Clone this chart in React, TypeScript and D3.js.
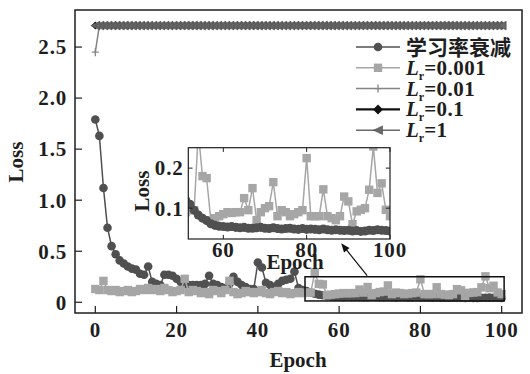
import React, {useRef, useEffect} from "react";
import * as d3 from "d3";

// epochs 0..100
const epochs: number[] = d3.range(0, 101);

// 学习率衰减 (learning-rate decay)
const decayLoss: number[] = [
    1.79, 1.63, 1.12, 0.73, 0.55, 0.47, 0.41, 0.38, 0.35, 0.33,
    0.32, 0.28, 0.27, 0.35, 0.20, 0.18, 0.17, 0.27, 0.27, 0.26,
    0.23, 0.20, 0.18, 0.17, 0.17, 0.17, 0.17, 0.18, 0.26, 0.18,
    0.17, 0.15, 0.14, 0.18, 0.25, 0.20, 0.17, 0.15, 0.13, 0.13,
    0.39, 0.34, 0.19, 0.17, 0.15, 0.18, 0.21, 0.22, 0.23, 0.30,
    0.14, 0.12, 0.11, 0.095, 0.083, 0.075, 0.069, 0.061, 0.057, 0.055,
    0.054, 0.053, 0.054, 0.052, 0.051, 0.052, 0.050, 0.050, 0.051, 0.052,
    0.050, 0.049, 0.051, 0.049, 0.048, 0.049, 0.050, 0.048, 0.047, 0.049,
    0.047, 0.048, 0.047, 0.046, 0.048, 0.046, 0.045, 0.046, 0.045, 0.044,
    0.045, 0.043, 0.044, 0.042, 0.043, 0.045, 0.044, 0.046, 0.045, 0.044,
    0.043
];

// Lr = 0.001
const lr0001Loss: number[] = [
    0.13, 0.12, 0.21, 0.12, 0.11, 0.12, 0.10, 0.11, 0.12, 0.10,
    0.11, 0.13, 0.12, 0.14, 0.12, 0.13, 0.11, 0.14, 0.12, 0.10,
    0.11, 0.12, 0.23, 0.10, 0.12, 0.11, 0.09, 0.10, 0.08, 0.12,
    0.11, 0.09, 0.12, 0.21, 0.10, 0.08, 0.09, 0.11, 0.10, 0.09,
    0.10, 0.12, 0.09, 0.08, 0.10, 0.11, 0.09, 0.10, 0.08, 0.09,
    0.10, 0.09, 0.095, 0.095, 0.29, 0.18, 0.175, 0.07, 0.075, 0.08,
    0.085, 0.09, 0.088, 0.09, 0.09, 0.125, 0.095, 0.15, 0.07, 0.09,
    0.10, 0.105, 0.165, 0.08, 0.095, 0.09, 0.08, 0.085, 0.09, 0.095,
    0.225, 0.08, 0.08, 0.08, 0.147, 0.08, 0.075, 0.07, 0.08, 0.129,
    0.117, 0.06, 0.092, 0.096, 0.10, 0.146, 0.254, 0.138, 0.162, 0.096,
    0.08
];

// Lr = 0.01
const lr001Loss: number[] = [
    2.45, 2.71, 2.71, 2.71, 2.71, 2.71, 2.71, 2.71, 2.71, 2.71,
    2.71, 2.71, 2.71, 2.71, 2.71, 2.71, 2.71, 2.71, 2.71, 2.71,
    2.71, 2.71, 2.71, 2.71, 2.71, 2.71, 2.71, 2.71, 2.71, 2.71,
    2.71, 2.71, 2.71, 2.71, 2.71, 2.71, 2.71, 2.71, 2.71, 2.71,
    2.71, 2.71, 2.71, 2.71, 2.71, 2.71, 2.71, 2.71, 2.71, 2.71,
    2.71, 2.71, 2.71, 2.71, 2.71, 2.71, 2.71, 2.71, 2.71, 2.71,
    2.71, 2.71, 2.71, 2.71, 2.71, 2.71, 2.71, 2.71, 2.71, 2.71,
    2.71, 2.71, 2.71, 2.71, 2.71, 2.71, 2.71, 2.71, 2.71, 2.71,
    2.71, 2.71, 2.71, 2.71, 2.71, 2.71, 2.71, 2.71, 2.71, 2.71,
    2.71, 2.71, 2.71, 2.71, 2.71, 2.71, 2.71, 2.71, 2.71, 2.71,
    2.71
];

// Lr = 0.1
const lr01Loss: number[] = [
    2.71, 2.71, 2.71, 2.71, 2.71, 2.71, 2.71, 2.71, 2.71, 2.71,
    2.71, 2.71, 2.71, 2.71, 2.71, 2.71, 2.71, 2.71, 2.71, 2.71,
    2.71, 2.71, 2.71, 2.71, 2.71, 2.71, 2.71, 2.71, 2.71, 2.71,
    2.71, 2.71, 2.71, 2.71, 2.71, 2.71, 2.71, 2.71, 2.71, 2.71,
    2.71, 2.71, 2.71, 2.71, 2.71, 2.71, 2.71, 2.71, 2.71, 2.71,
    2.71, 2.71, 2.71, 2.71, 2.71, 2.71, 2.71, 2.71, 2.71, 2.71,
    2.71, 2.71, 2.71, 2.71, 2.71, 2.71, 2.71, 2.71, 2.71, 2.71,
    2.71, 2.71, 2.71, 2.71, 2.71, 2.71, 2.71, 2.71, 2.71, 2.71,
    2.71, 2.71, 2.71, 2.71, 2.71, 2.71, 2.71, 2.71, 2.71, 2.71,
    2.71, 2.71, 2.71, 2.71, 2.71, 2.71, 2.71, 2.71, 2.71, 2.71,
    2.71
];

// Lr = 1
const lr1Loss: number[] = [
    2.71, 2.71, 2.71, 2.71, 2.71, 2.71, 2.71, 2.71, 2.71, 2.71,
    2.71, 2.71, 2.71, 2.71, 2.71, 2.71, 2.71, 2.71, 2.71, 2.71,
    2.71, 2.71, 2.71, 2.71, 2.71, 2.71, 2.71, 2.71, 2.71, 2.71,
    2.71, 2.71, 2.71, 2.71, 2.71, 2.71, 2.71, 2.71, 2.71, 2.71,
    2.71, 2.71, 2.71, 2.71, 2.71, 2.71, 2.71, 2.71, 2.71, 2.71,
    2.71, 2.71, 2.71, 2.71, 2.71, 2.71, 2.71, 2.71, 2.71, 2.71,
    2.71, 2.71, 2.71, 2.71, 2.71, 2.71, 2.71, 2.71, 2.71, 2.71,
    2.71, 2.71, 2.71, 2.71, 2.71, 2.71, 2.71, 2.71, 2.71, 2.71,
    2.71, 2.71, 2.71, 2.71, 2.71, 2.71, 2.71, 2.71, 2.71, 2.71,
    2.71, 2.71, 2.71, 2.71, 2.71, 2.71, 2.71, 2.71, 2.71, 2.71,
    2.71
];

const xTicks = [0, 20, 40, 60, 80, 100];
const yTicks = [0, 0.5, 1.0, 1.5, 2.0, 2.5];
const yTickLabels = ["0", "0.5", "1.0", "1.5", "2.0", "2.5"];
const insetXTicks = [60, 80, 100];
const insetYTicks = [0.1, 0.2];
const insetYTickLabels = ["0.1", "0.2"];

// zoomed region shown in the inset
const zoomEpochs = [51.6, 100.6];
const zoomLoss = [0.013, 0.25];

const legendNames = ["学习率衰减", "0.001", "0.01", "0.1", "1"];

const App = () => {
    const ref = useRef<SVGSVGElement>(null);

    useEffect(() => {
        const W = 530, H = 374;
        const serif = "'Liberation Serif', 'Times New Roman', serif";
        const cjk = "'Noto Sans CJK SC', sans-serif";
        const tickFont = `bold 21px ${serif}`;
        const ink = "#1e1e1e";

        const svg = d3.select(ref.current).attr("width", W).attr("height", H);
        svg.selectAll("*").remove();
        svg.append("rect").attr("width", W).attr("height", H).attr("fill", "#fff");

        const x = d3.scaleLinear().domain([-5, 105]).range([75, 522]);
        const y = d3.scaleLinear().domain([-0.105, 2.863]).range([313, 10]);

        const series = [
            {name: legendNames[0], values: decayLoss, color: "#505050", line: "#505050", sym: "circle"},
            {name: legendNames[1], values: lr0001Loss, color: "#a6a6a6", line: "#a6a6a6", sym: "square"},
            {name: legendNames[2], values: lr001Loss, color: "#858585", line: "#858585", sym: "plus"},
            {name: legendNames[3], values: lr01Loss, color: "#111", line: "#111", sym: "diamond"},
            {name: legendNames[4], values: lr1Loss, color: "#6a6a6a", line: "#6a6a6a", sym: "triangle"},
        ];

        // draws one marker of given symbol type into a group
        const drawMarker = (g: any, sym: string, cx: number, cy: number, color: string, s = 1) => {
            if (sym === "circle") {
                g.append("circle").attr("cx", cx).attr("cy", cy).attr("r", 4.3 * s)
                    .attr("fill", color);
            } else if (sym === "square") {
                g.append("rect").attr("x", cx - 4.2 * s).attr("y", cy - 4.2 * s)
                    .attr("width", 8.4 * s).attr("height", 8.4 * s).attr("fill", color);
            } else if (sym === "plus") {
                g.append("path").attr("d", `M${cx - 3.5},${cy}H${cx + 3.5}M${cx},${cy - 4}V${cy + 4}`)
                    .attr("stroke", color).attr("stroke-width", 1.3);
            } else if (sym === "diamond") {
                g.append("path").attr("d", `M${cx},${cy - 5 * s}L${cx + 5 * s},${cy}L${cx},${cy + 5 * s}L${cx - 5 * s},${cy}Z`)
                    .attr("fill", color);
            } else if (sym === "triangle") {
                g.append("path").attr("d", `M${cx - 4.5 * s},${cy}L${cx + 4.5 * s},${cy - 4.3 * s}L${cx + 4.5 * s},${cy + 4.3 * s}Z`)
                    .attr("fill", color).attr("stroke", "#4a4a4a").attr("stroke-width", 0.6);
            }
        };

        const plotSeries = (g: any, xs: any, ys: any, s: any, width = 1.5, markerScale = 1) => {
            const line = d3.line<number>().x((d, i) => xs(epochs[i])).y(d => ys(d));
            g.append("path").datum(s.values).attr("d", line)
                .attr("fill", "none").attr("stroke", s.line).attr("stroke-width", width);
            s.values.forEach((v: number, i: number) => drawMarker(g, s.sym, xs(epochs[i]), ys(v), s.color, markerScale));
        };

        // main series: Lr=0.1 hidden under Lr=1, squares above the decay curve
        const main = svg.append("g");
        plotSeries(main, x, y, series[3], 1.5, 0.8);
        plotSeries(main, x, y, series[2]);
        plotSeries(main, x, y, series[4], 2);
        plotSeries(main, x, y, series[0]);
        plotSeries(main, x, y, series[1]);

        // frame
        svg.append("rect").attr("x", 75).attr("y", 10).attr("width", 447).attr("height", 303)
            .attr("fill", "none").attr("stroke", ink).attr("stroke-width", 1.5);

        // ticks (inward)
        yTicks.forEach((t, i) => {
            svg.append("line").attr("x1", 75).attr("x2", 82).attr("y1", y(t)).attr("y2", y(t))
                .attr("stroke", ink).attr("stroke-width", 1.2);
            svg.append("text").attr("x", 67).attr("y", y(t)).attr("dy", "0.35em")
                .attr("text-anchor", "end").style("font", tickFont).style("letter-spacing", "0.8px")
                .attr("fill", ink).text(yTickLabels[i]);
        });
        xTicks.forEach(t => {
            svg.append("line").attr("x1", x(t)).attr("x2", x(t)).attr("y1", 313).attr("y2", 306)
                .attr("stroke", ink).attr("stroke-width", 1.2);
            svg.append("text").attr("x", x(t)).attr("y", 337)
                .attr("text-anchor", "middle").style("font", tickFont).style("letter-spacing", "0.8px")
                .attr("fill", ink).text(t);
        });

        svg.append("text").attr("x", 298).attr("y", 367).attr("text-anchor", "middle")
            .style("font", tickFont).attr("fill", ink).text("Epoch");
        svg.append("text").attr("transform", "translate(23,162) rotate(-90)").attr("text-anchor", "middle")
            .style("font", tickFont).attr("fill", ink).text("Loss");

        // zoom box and arrow
        svg.append("rect").attr("x", x(zoomEpochs[0])).attr("y", y(zoomLoss[1]))
            .attr("width", x(zoomEpochs[1]) - x(zoomEpochs[0])).attr("height", y(zoomLoss[0]) - y(zoomLoss[1]))
            .attr("fill", "none").attr("stroke", "#111").attr("stroke-width", 1.5);

        const ax0 = x(66.9), ay0 = y(0.26), ax1 = x(60.5), ay1 = y(0.578);
        const ang = Math.atan2(ay1 - ay0, ax1 - ax0);
        svg.append("line").attr("x1", ax0).attr("y1", ay0)
            .attr("x2", ax1 - 6 * Math.cos(ang)).attr("y2", ay1 - 6 * Math.sin(ang))
            .attr("stroke", "#111").attr("stroke-width", 1.2);
        const hl = 9, hw = 3.5;
        const bx = ax1 - hl * Math.cos(ang), by = ay1 - hl * Math.sin(ang);
        svg.append("path")
            .attr("d", `M${ax1},${ay1}L${bx + hw * Math.sin(ang)},${by - hw * Math.cos(ang)}L${bx - hw * Math.sin(ang)},${by + hw * Math.cos(ang)}Z`)
            .attr("fill", "#111");

        // inset
        const xi = d3.scaleLinear().domain([51.6, 100]).range([188.3, 390]);
        const yi = d3.scaleLinear().domain([0.023, 0.251]).range([239, 147.7]);
        svg.append("defs").append("clipPath").attr("id", "insetClip")
            .append("rect").attr("x", 188.3).attr("y", 147.7).attr("width", 201.7).attr("height", 91.3);
        svg.append("rect").attr("x", 188.3).attr("y", 147.7).attr("width", 201.7).attr("height", 91.3)
            .attr("fill", "#fff");
        const inset = svg.append("g").attr("clip-path", "url(#insetClip)");
        plotSeries(inset, xi, yi, series[1]);
        plotSeries(inset, xi, yi, series[0], 1.5, 1.05);
        svg.append("rect").attr("x", 188.3).attr("y", 147.7).attr("width", 201.7).attr("height", 91.3)
            .attr("fill", "none").attr("stroke", ink).attr("stroke-width", 1.2);

        insetYTicks.forEach((t, i) => {
            svg.append("line").attr("x1", 188.3).attr("x2", 192.5).attr("y1", yi(t)).attr("y2", yi(t))
                .attr("stroke", ink);
            svg.append("line").attr("x1", 390).attr("x2", 385.8).attr("y1", yi(t)).attr("y2", yi(t))
                .attr("stroke", ink);
            svg.append("text").attr("x", 183.5).attr("y", yi(t)).attr("dy", "0.35em")
                .attr("text-anchor", "end").style("font", tickFont).style("letter-spacing", "0.8px")
                .attr("fill", ink).text(insetYTickLabels[i]);
        });
        insetXTicks.forEach(t => {
            svg.append("line").attr("x1", xi(t)).attr("x2", xi(t)).attr("y1", 239).attr("y2", 234.8)
                .attr("stroke", ink);
            svg.append("line").attr("x1", xi(t)).attr("x2", xi(t)).attr("y1", 147.7).attr("y2", 151.9)
                .attr("stroke", ink);
            svg.append("text").attr("x", xi(t)).attr("y", 256.5)
                .attr("text-anchor", "middle").style("font", tickFont).style("letter-spacing", "0.8px")
                .attr("fill", ink).text(t);
        });
        svg.append("text").attr("x", 295).attr("y", 269).attr("text-anchor", "middle")
            .style("font", tickFont).attr("fill", ink).text("Epoch");
        svg.append("text").attr("transform", "translate(149,191) rotate(-90)").attr("text-anchor", "middle")
            .style("font", tickFont).attr("fill", ink).text("Loss");

        // legend
        const legend = svg.append("g");
        series.forEach((s, i) => {
            const ly = 47 + i * 20.8;
            legend.append("line").attr("x1", 356).attr("x2", 400).attr("y1", ly).attr("y2", ly)
                .attr("stroke", s.line).attr("stroke-width", i === 3 ? 2.2 : 1.5);
            drawMarker(legend, s.sym, 378, ly, s.color);
            if (i === 0) {
                legend.append("text").attr("x", 406).attr("y", ly).attr("dy", "0.36em")
                    .style("font", `bold 21px ${cjk}`).attr("fill", ink).text(s.name);
            } else {
                const t = legend.append("text").attr("x", 406).attr("y", ly).attr("dy", "0.33em")
                    .style("font", tickFont).attr("fill", ink);
                t.append("tspan").style("font-style", "italic").text("L");
                t.append("tspan").attr("dy", 5).style("font-size", "12px").text("r");
                t.append("tspan").attr("dy", -5).style("letter-spacing", "0.5px").text("=" + s.name);
            }
        });
    }, []);

    return (
        <div style={{position: "absolute", left: 0, top: 0}}>
            <svg ref={ref}></svg>
        </div>
    );
};

export default App;
